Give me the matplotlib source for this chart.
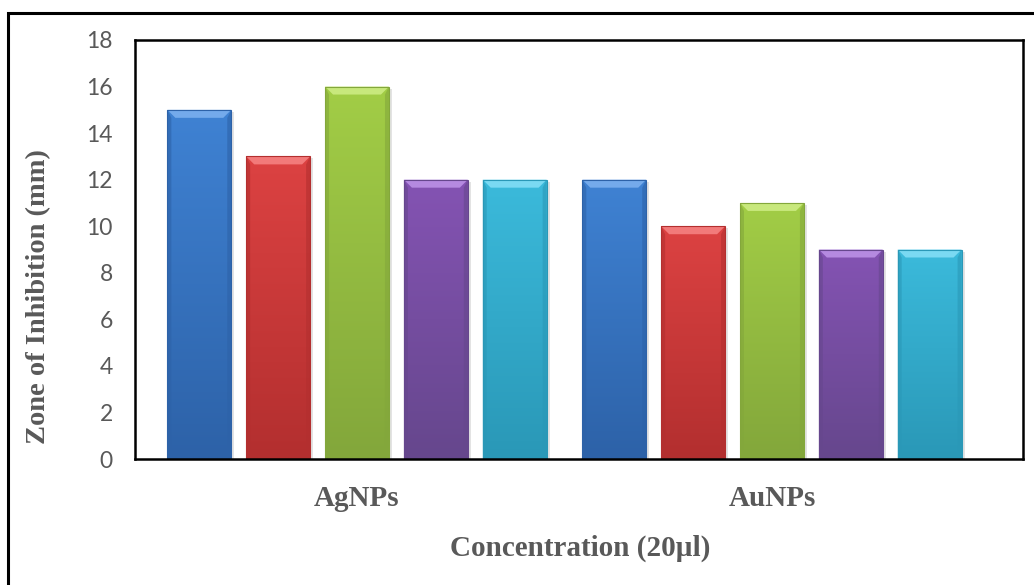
import numpy as np
import matplotlib
matplotlib.use("Agg")
import matplotlib.pyplot as plt
from matplotlib.patches import Rectangle, Polygon
from matplotlib.colors import to_rgb

# Data
groups = ["AgNPs", "AuNPs"]
series_values = [
    [15, 12],   # series 1
    [13, 10],   # series 2
    [16, 11],   # series 3
    [12, 9],    # series 4
    [12, 9],    # series 5
]
yticks = [0, 2, 4, 6, 8, 10, 12, 14, 16, 18]

# Styling: (top colour, bottom colour, bevel highlight)
bar_styles = [
    ("#3f82d3", "#2d62a8", "#74aaeb"),
    ("#dc4242", "#b32f2f", "#f27a7a"),
    ("#a2cd46", "#83a73b", "#c8e87c"),
    ("#8453b3", "#66478d", "#b58ae0"),
    ("#3bbadb", "#2a98b7", "#7ad9f2"),
]
text_grey = "#595959"

W, H = 1034, 585
fig = plt.figure(figsize=(W / 100, H / 100), dpi=100)
fig.patch.set_facecolor("white")

# Outer frame (only the top and left edges fall inside the canvas)
fig.patches.append(Rectangle((8 / W, -0.05), 1.2, 1 - 13 / H + 0.05,
                             transform=fig.transFigure, fill=False,
                             edgecolor="black", linewidth=2.2, zorder=0))

ax_l, ax_r, ax_t, ax_b = 135, 1023, 40, 459
ax = fig.add_axes([ax_l / W, 1 - ax_b / H, (ax_r - ax_l) / W, (ax_b - ax_t) / H])

n = len(series_values)
step = 0.19
width = 0.154
group_pos = np.arange(len(groups), dtype=float)
offsets = (np.arange(n) - (n - 1) / 2) * step

xlim = (-0.535, 1.605)
ylim = (0, 18)
ax.set_xlim(*xlim)
ax.set_ylim(*ylim)

# pixel -> data conversions for the bevel
px_x = (xlim[1] - xlim[0]) / (ax_r - ax_l)
px_y = (ylim[1] - ylim[0]) / (ax_b - ax_t)
bev_x = 8 * px_x
bev_y = 8 * px_y

for i, vals in enumerate(series_values):
    top_c, bot_c, hi_c = bar_styles[i]
    xs = group_pos + offsets[i]
    bars = ax.bar(xs, vals, width=width, color=top_c, edgecolor="none", zorder=3)
    for b, v in zip(bars, vals):
        x0 = b.get_x()
        x1 = x0 + b.get_width()
        # soft shadow to the right
        ax.add_patch(Rectangle((x1, 0), 3 * px_x, v - 2 * px_y, facecolor="#c8c8c8",
                               alpha=0.5, edgecolor="none", zorder=2))
        # vertical gradient body
        t = np.linspace(0, 1, 64)[:, None]
        c0, c1 = np.array(to_rgb(top_c)), np.array(to_rgb(bot_c))
        grad = (c0[None, None, :] * (1 - t[..., None]) + c1[None, None, :] * t[..., None])
        im = ax.imshow(grad, extent=[x0, x1, 0, v], aspect="auto", zorder=3.5,
                       interpolation="bilinear")
        im.set_clip_path(b)
        # top bevel highlight
        ax.add_patch(Polygon([[x0, v], [x1, v], [x1 - bev_x, v - bev_y],
                              [x0 + bev_x, v - bev_y]], closed=True,
                             facecolor=hi_c, edgecolor="none", zorder=4))
        # darker side bevels
        ax.add_patch(Polygon([[x0, 0], [x0 + bev_x * 0.5, 0],
                              [x0 + bev_x * 0.5, v - bev_y], [x0, v]],
                             closed=True, facecolor=bot_c, alpha=0.6,
                             edgecolor="none", zorder=4))
        ax.add_patch(Polygon([[x1 - bev_x * 0.5, 0], [x1, 0], [x1, v],
                              [x1 - bev_x * 0.5, v - bev_y]],
                             closed=True, facecolor=bot_c, alpha=0.6,
                             edgecolor="none", zorder=4))
        # thin outline
        ax.add_patch(Rectangle((x0, 0), x1 - x0, v, fill=False,
                               edgecolor=bot_c, linewidth=0.8, zorder=4.5))

for s in ax.spines.values():
    s.set_color("black")
    s.set_linewidth(1.8)
    s.set_zorder(6)

ax.set_yticks(yticks)
ax.set_yticklabels([str(v) for v in yticks], fontfamily="Lato", fontsize=16.5,
                   color=text_grey)
ax.tick_params(axis="y", length=0, pad=16)
ax.set_xticks(group_pos)
ax.set_xticklabels(groups, fontfamily="Liberation Serif", fontweight="bold",
                   fontsize=21, color=text_grey)
ax.tick_params(axis="x", length=0, pad=19)

ax.set_ylabel("Zone of Inhibition (mm)", fontfamily="Liberation Serif",
              fontweight="bold", fontsize=20.5, color=text_grey)
ax.yaxis.set_label_coords(-0.095, 0.387)
ax.set_xlabel("Concentration (20µl)", fontfamily="Liberation Serif",
              fontweight="bold", fontsize=21, color=text_grey)
ax.xaxis.set_label_coords(0.501, -0.181)

fig.savefig("out.png", dpi=100, facecolor="white")
